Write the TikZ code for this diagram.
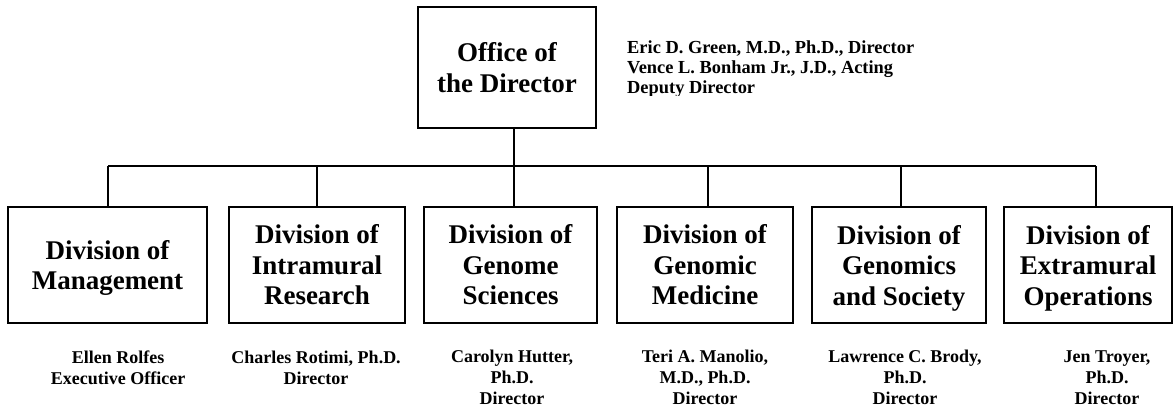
\documentclass[tikz,border=0pt]{standalone}
\usepackage{fontspec}
\setmainfont{Liberation Serif}
\newcommand\dropdepth[1]{\raisebox{0pt}[\height][0pt]{#1}}
\begin{document}
\begin{tikzpicture}[x=1pt,y=-1pt,
  unitbox/.style={draw, line width=1.3pt, inner sep=0pt, align=center,
    minimum height=116pt, font=\fontsize{27}{30.5}\selectfont\bfseries},
  lbl/.style={inner sep=0pt, align=center, font=\fontsize{18}{21}\selectfont\bfseries},
  link/.style={line width=1.3pt}]
\useasboundingbox (0,0) rectangle (1174,413);

% Office of the Director
\node[unitbox, minimum width=178pt, minimum height=121pt] (office) at (507,67.5) {Office of\\the Director};
\begin{scope}
  \clip (600,0) rectangle (1000,95);
  \node[inner sep=0pt, anchor=west, align=left, font=\fontsize{18.4}{20}\selectfont\bfseries] (dirs) at (627,69)
    {Eric D. Green, M.D., Ph.D., Director\\Vence L. Bonham Jr., J.D., Acting\\Deputy Director};
\end{scope}

% Divisions
\node[unitbox, minimum width=199pt] (d1) at (107.5,265) {Division of\\\dropdepth{Management}};
\node[unitbox, minimum width=176pt] (d2) at (317,265) {Division of\\Intramural\\Research};
\node[unitbox, minimum width=173pt] (d3) at (510.5,265) {Division of\\Genome\\Sciences};
\node[unitbox, minimum width=176pt] (d4) at (705,265) {Division of\\Genomic\\Medicine};
\node[unitbox, minimum width=174pt] (d5) at (899,265) {Division of\\Genomics\\\dropdepth{and Society}};
\node[unitbox, minimum width=168pt] (d6) at (1088,265) {Division of\\Extramural\\\dropdepth{Operations}};

% Bar junctions
\coordinate (j1) at (108,166);
\coordinate (j2) at (317,166);
\coordinate (j3) at (514,166);
\coordinate (j4) at (708,166);
\coordinate (j5) at (901,166);
\coordinate (j6) at (1096,166);

\draw[link] (j1) -- (j6);
\draw[link] (j3 |- office.south) -- (j3 |- d3.north);
\foreach \k in {1,2,4,5,6} {
  \draw[link] (j\k) -- (j\k |- d\k.north);
}

% Heads
\node[lbl] (p1) at (118,367.5) {Ellen Rolfes\\Executive Officer};
\node[lbl] (p2) at (316,367.5) {Charles Rotimi, Ph.D.\\Director};
\node[lbl] (p3) at (512,377.5) {Carolyn Hutter,\\Ph.D.\\Director};
\node[lbl] (p4) at (705,377.5) {Teri A. Manolio,\\M.D., Ph.D.\\Director};
\node[lbl] (p5) at (905,377.5) {Lawrence C. Brody,\\Ph.D.\\Director};
\node[lbl] (p6) at (1107,377.5) {Jen Troyer,\\Ph.D.\\Director};
\end{tikzpicture}
\end{document}
